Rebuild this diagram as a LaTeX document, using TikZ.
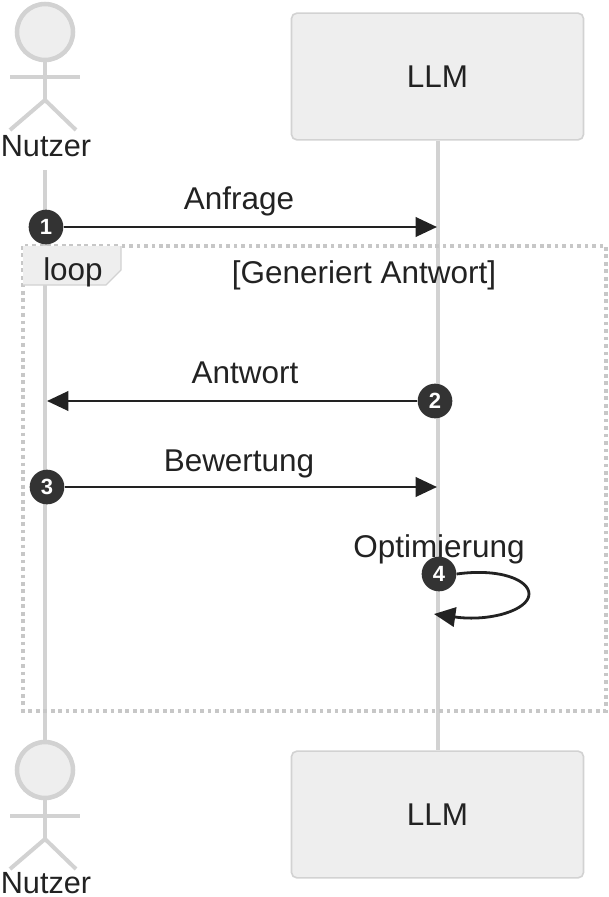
\documentclass[tikz,border=0pt]{standalone}
\usepackage{fontspec}
\usepackage{xcolor}
\setmainfont{Liberation Sans}
\usetikzlibrary{arrows.meta}
\definecolor{lifegray}{HTML}{D2D2D2}
\definecolor{fillgray}{HTML}{EEEEEE}
\definecolor{inkdark}{HTML}{222222}
\definecolor{badgedark}{HTML}{333333}
\tikzset{
  label text/.style={inner sep=0pt,text=inkdark,font=\fontsize{23.6}{26}\selectfont},
  actor text/.style={inner sep=0pt,text=inkdark,font=\fontsize{23}{26}\selectfont},
  lifeline/.style={draw=lifegray,line width=3pt},
  actor head/.style={circle,draw=lifegray,line width=3.4pt,fill=fillgray,minimum size=42pt,inner sep=0pt},
  part box/.style={draw=lifegray,line width=1.2pt,fill=fillgray,rounded corners=4pt,minimum width=219pt,minimum height=95pt,inner sep=0pt,text=inkdark,font=\fontsize{23.6}{26}\selectfont},
  badge/.style={circle,fill=badgedark,minimum size=26pt,inner sep=0pt,text=white,font=\bfseries\fontsize{16.5}{16.5}\selectfont},
  message/.style={draw=inkdark,line width=2.1pt,-{Triangle[length=16pt,width=14.5pt]}},
  loop frame/.style={draw=lifegray!95!black,line width=2.4pt,dash pattern=on 2.8pt off 2.8pt},
}
\begin{document}
\begin{tikzpicture}[x=0.75pt,y=-0.75pt]
\useasboundingbox (0,0) rectangle (609,897);
\node [part box] (llmTop) at (437.5,76.5) {LLM};
\node [part box] (llmBot) at (437.5,814.5) {LLM};
\node [actor head] (headTop) at (45,32) {};
\node [actor head] (headBot) at (45,770) {};
\node [actor text] (nutzerTop) at (46,146.5) {Nutzer};
\node [actor text] (nutzerBot) at (46,883) {Nutzer};
% lifelines
\coordinate (lifeStart) at (45,170);
\draw [lifeline] (lifeStart) -- (headBot.north);
\draw [lifeline] (llmTop.south) -- (llmBot.north);
% actors
\coordinate (hipTop) at (45,100);
\coordinate (armTopL) at (10,77);
\coordinate (armTopR) at (80,77);
\coordinate (legTopL) at (10,130);
\coordinate (legTopR) at (76,130);
\draw [lifeline] (headTop.south) -- (hipTop);
\draw [lifeline] (armTopL) -- (armTopR);
\draw [lifeline] (legTopL) -- (hipTop) -- (legTopR);
\coordinate (hipBot) at (45,839);
\coordinate (armBotL) at (10,816);
\coordinate (armBotR) at (80,816);
\coordinate (legBotL) at (10,869);
\coordinate (legBotR) at (76,869);
\draw [lifeline] (headBot.south) -- (hipBot);
\draw [lifeline] (armBotL) -- (armBotR);
\draw [lifeline] (legBotL) -- (hipBot) -- (legBotR);
% loop
\draw [loop frame] (23,246) rectangle (606,711);
\fill [fillgray] (23,246) -- (121,246) -- (121,270) -- (106,285) -- (23,285) -- cycle;
\draw [draw=lifegray,line width=1pt] (23,285) -- (106,285) -- (121,270) -- (121,246);
\node [label text] (loopTag) at (73,272) {loop};
\node [label text] (loopText) at (364,275) {[Generiert Antwort]};
% messages
\node [label text] (msgA) at (239,201) {Anfrage};
\node [label text] (msgB) at (245,373) {Antwort};
\node [label text] (msgC) at (239,464) {Bewertung};
\node [label text] (msgD) at (439,549) {Optimierung};
\node [badge] (one) at (46,227) {1};
\node [badge] (two) at (435,401) {2};
\node [badge] (three) at (47,487) {3};
\node [badge] (four) at (439,574) {4};
\coordinate (endA) at (437,227);
\coordinate (endB) at (47,401);
\coordinate (endC) at (437,487);
\coordinate (endD) at (434,614);
\draw [message] (one) -- (endA);
\draw [message] (two) -- (endB);
\draw [message] (three) -- (endC);
\draw [message] (four.east) .. controls (500,568) and (529,580) .. (529,594) .. controls (529,610) and (490,622) .. (endD);
\end{tikzpicture}
\end{document}
